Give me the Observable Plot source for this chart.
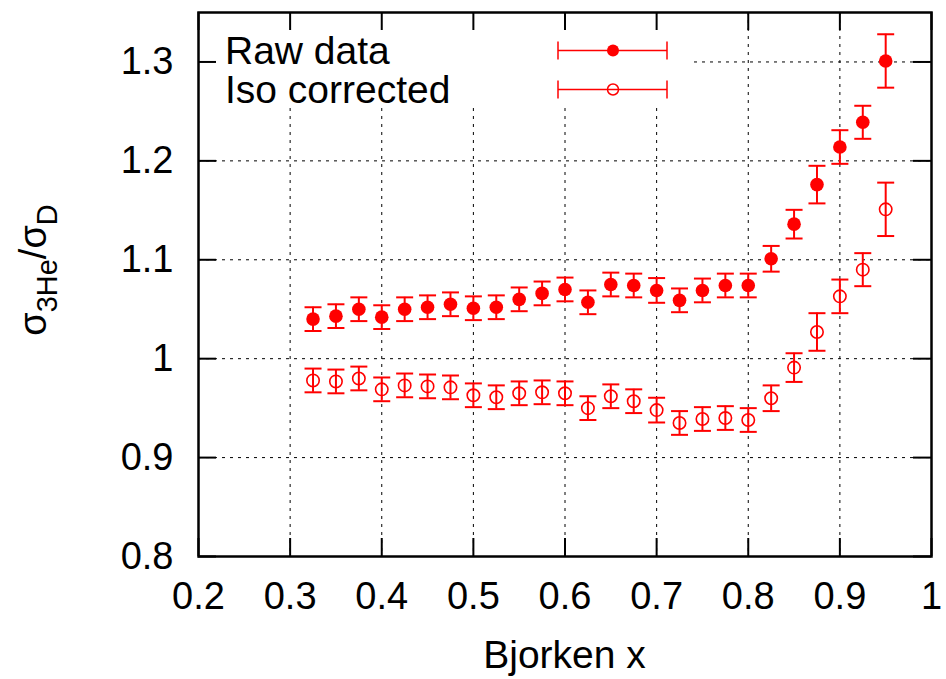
<!DOCTYPE html>
<html>
<head>
<meta charset="utf-8">
<script src="https://cdn.jsdelivr.net/npm/d3@7"></script>
<script src="https://cdn.jsdelivr.net/npm/@observablehq/plot@0.6"></script>
<style>
  html, body { margin: 0; padding: 0; background: #fff; }
  #chart { width: 946px; height: 679px; }
</style>
</head>
<body>
<div id="chart"></div>
<script>
// ---- data ----
const bjorkenX = [0.325, 0.35, 0.375, 0.4, 0.425, 0.45, 0.475, 0.5, 0.525, 0.55,
                  0.575, 0.6, 0.625, 0.65, 0.675, 0.7, 0.725, 0.75, 0.775, 0.8,
                  0.825, 0.85, 0.875, 0.9, 0.925, 0.95];
const rawData = [1.040, 1.043, 1.050, 1.042, 1.050, 1.052, 1.055, 1.051, 1.052, 1.060,
                 1.066, 1.070, 1.057, 1.075, 1.074, 1.069, 1.059, 1.069, 1.074, 1.074,
                 1.101, 1.136, 1.176, 1.214, 1.239, 1.301];
const isoCorrected = [0.978, 0.977, 0.980, 0.969, 0.973, 0.972, 0.971, 0.963, 0.961, 0.965,
                      0.966, 0.965, 0.950, 0.962, 0.957, 0.948, 0.935, 0.939, 0.940, 0.938,
                      0.960, 0.991, 1.027, 1.063, 1.090, 1.151];
const errors = [0.012, 0.012, 0.012, 0.012, 0.012, 0.012, 0.012, 0.012, 0.012, 0.012,
                0.012, 0.012, 0.012, 0.012, 0.012, 0.0125, 0.012, 0.012, 0.012, 0.012,
                0.013, 0.0145, 0.019, 0.017, 0.0167, 0.027];
const xTicks = [0.2, 0.3, 0.4, 0.5, 0.6, 0.7, 0.8, 0.9, 1.0];
const xTickLabels = ["0.2", "0.3", "0.4", "0.5", "0.6", "0.7", "0.8", "0.9", "1"];
const yTicks = [0.8, 0.9, 1.0, 1.1, 1.2, 1.3];
const yTickLabels = ["0.8", "0.9", "1", "1.1", "1.2", "1.3"];
const xGrid = [0.3, 0.4, 0.5, 0.6, 0.7, 0.8, 0.9];
const yGrid = [0.9, 1.0, 1.1, 1.2, 1.3];
const seriesNames = ["Raw data", "Iso corrected"];
const xDomain = [0.2, 1.0];
const yDomain = [0.8, 1.35];

// ---- tables built from the arrays ----
const raw = bjorkenX.map((x, i) => ({x, y: rawData[i], e: errors[i]}));
const iso = bjorkenX.map((x, i) => ({x, y: isoCorrected[i], e: errors[i]}));

// ---- layout ----
const W = 946, H = 679;
const mL = 198, mR = 15, mT = 12, mB = 123;
const RED = "#ff0000";
const FONT = "'Liberation Sans', Arial, Helvetica, sans-serif";
const TICK = 18; // px, inward tick length
// tick length expressed in data units of each scale
const tickDX = TICK * (xDomain[1] - xDomain[0]) / (W - mL - mR);
const tickDY = TICK * (yDomain[1] - yDomain[0]) / (H - mT - mB);

// horizontal cap symbol for error bars
const capSymbol = {
  draw(ctx, size) {
    const w = Math.sqrt(size / Math.PI);
    ctx.moveTo(-w, 0);
    ctx.lineTo(w, 0);
  }
};

const gridStyle = {stroke: "#000", strokeOpacity: 1, strokeWidth: 1, strokeDasharray: "3,5"};
const tickStyle = {stroke: "#000", strokeWidth: 2};

// legend: white box covering the grid, then samples
function legendMark() {
  const g = d3.create("svg:g");
  g.append("rect")
    .attr("x", mL + 2).attr("y", mT + 2)
    .attr("width", 692 - mL - 2).attr("height", 108 - mT - 2)
    .attr("fill", "#fff");
  const rows = [50.5, 89.5];
  seriesNames.forEach((name, i) => {
    const cy = rows[i];
    g.append("text")
      .attr("x", mL + 27).attr("y", cy + 13)
      .attr("text-anchor", "start")
      .attr("font-family", FONT).attr("font-size", 39).attr("fill", "#000")
      .text(name);
    const x1 = 558, x2 = 667, cx = 613;
    g.append("line").attr("x1", x1).attr("x2", x2).attr("y1", cy).attr("y2", cy)
      .attr("stroke", RED).attr("stroke-width", 1.5);
    [x1, x2].forEach(xx => g.append("line").attr("x1", xx).attr("x2", xx)
      .attr("y1", cy - 9).attr("y2", cy + 9).attr("stroke", RED).attr("stroke-width", 1.5));
    if (i === 0) {
      g.append("circle").attr("cx", cx).attr("cy", cy).attr("r", 6).attr("fill", RED);
    } else {
      g.append("circle").attr("cx", cx).attr("cy", cy).attr("r", 5.5)
        .attr("fill", "none").attr("stroke", RED).attr("stroke-width", 1.5);
    }
  });
  return g.node();
}

const chart = Plot.plot({
  width: W, height: H,
  marginLeft: mL, marginRight: mR, marginTop: mT, marginBottom: mB,
  style: {fontFamily: FONT, background: "#fff", color: "#000"},
  x: {domain: xDomain, axis: null},
  y: {domain: yDomain, axis: null},
  marks: [
    Plot.ruleX(xGrid, gridStyle),
    Plot.ruleY(yGrid, gridStyle),
    legendMark,
    // tick labels
    Plot.axisX(xTicks, {anchor: "bottom", tickSize: 0, tickPadding: 26, fontSize: 38, label: null,
      tickFormat: (d) => xTickLabels[xTicks.indexOf(d)]}),
    Plot.axisY(yTicks, {anchor: "left", tickSize: 0, tickPadding: 25, fontSize: 38, label: null,
      tickFormat: (d) => yTickLabels[yTicks.indexOf(d)]}),
    // inward ticks on all four sides
    Plot.ruleX(xTicks, {x: d => d, y1: yDomain[0], y2: yDomain[0] + tickDY, ...tickStyle}),
    Plot.ruleX(xTicks, {x: d => d, y1: yDomain[1], y2: yDomain[1] - tickDY, ...tickStyle}),
    Plot.ruleY(yTicks, {y: d => d, x1: xDomain[0], x2: xDomain[0] + tickDX, ...tickStyle}),
    Plot.ruleY(yTicks, {y: d => d, x1: xDomain[1], x2: xDomain[1] - tickDX, ...tickStyle}),
    Plot.frame({stroke: "#000", strokeWidth: 2.5}),
    // error bars
    Plot.ruleX(raw, {x: "x", y1: d => d.y - d.e, y2: d => d.y + d.e, stroke: RED, strokeWidth: 2}),
    Plot.dot(raw, {x: "x", y: d => d.y - d.e, symbol: capSymbol, r: 8.5, stroke: RED, strokeWidth: 2, fill: "none"}),
    Plot.dot(raw, {x: "x", y: d => d.y + d.e, symbol: capSymbol, r: 8.5, stroke: RED, strokeWidth: 2, fill: "none"}),
    Plot.ruleX(iso, {x: "x", y1: d => d.y - d.e, y2: d => d.y + d.e, stroke: RED, strokeWidth: 2}),
    Plot.dot(iso, {x: "x", y: d => d.y - d.e, symbol: capSymbol, r: 8.5, stroke: RED, strokeWidth: 2, fill: "none"}),
    Plot.dot(iso, {x: "x", y: d => d.y + d.e, symbol: capSymbol, r: 8.5, stroke: RED, strokeWidth: 2, fill: "none"}),
    // markers
    Plot.dot(raw, {x: "x", y: "y", r: 6.8, fill: RED, stroke: "none"}),
    Plot.dot(iso, {x: "x", y: "y", r: 6.2, fill: "none", stroke: RED, strokeWidth: 1.6})
  ]
});

const svgNode = chart.tagName.toLowerCase() === "svg" ? chart : chart.querySelector("svg");
const svg = d3.select(svgNode);

// x axis label
svg.append("text")
  .attr("x", mL + (W - mL - mR) / 2).attr("y", 668)
  .attr("text-anchor", "middle")
  .attr("font-family", FONT).attr("font-size", 39).attr("fill", "#000")
  .text("Bjorken x");

// y axis label with subscripts
const yl = svg.append("text")
  .attr("transform", "translate(46,270) rotate(-90)")
  .attr("text-anchor", "middle")
  .attr("font-family", FONT).attr("font-size", 38).attr("fill", "#000");
yl.append("tspan").text("σ");
yl.append("tspan").attr("dy", 11).attr("font-size", 29).text("3He");
yl.append("tspan").attr("dy", -11).text("/σ");
yl.append("tspan").attr("dy", 11).attr("font-size", 29).text("D");

document.getElementById("chart").appendChild(chart);
</script>
</body>
</html>
